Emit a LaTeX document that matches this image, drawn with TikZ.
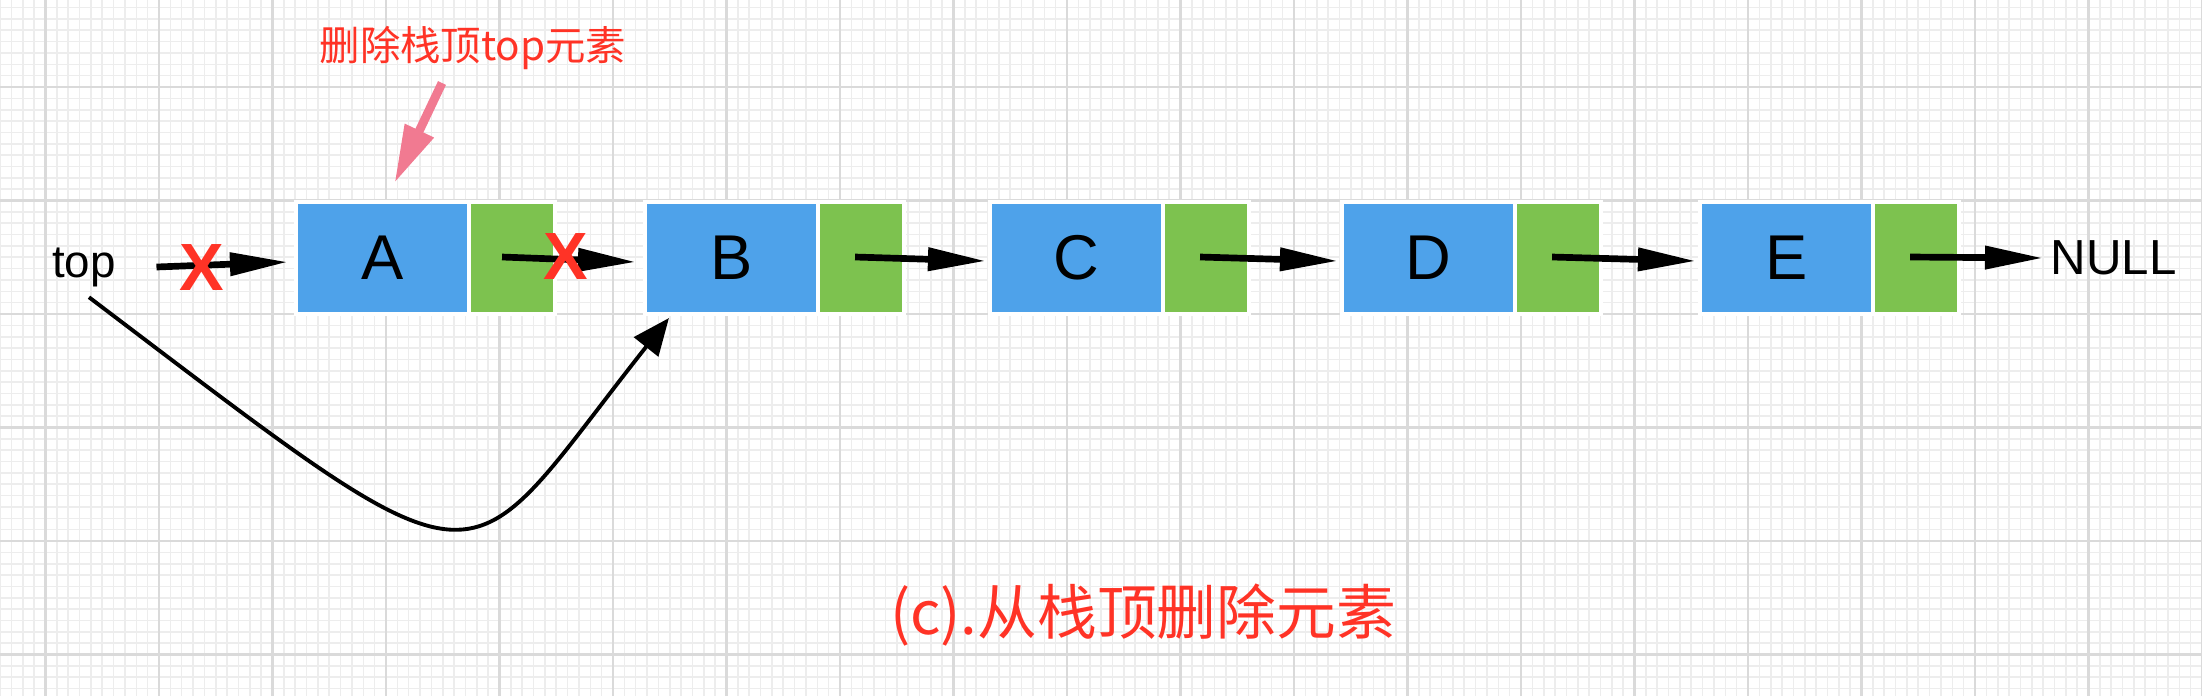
\documentclass[tikz,border=0pt]{standalone}
\usepackage{fontspec}
\usepackage{tikz}
\usetikzlibrary{arrows.meta,positioning}
\setmainfont{Liberation Sans}
\newfontfamily\cjk{Noto Sans CJK SC}

\definecolor{datablue}{HTML}{4EA2EA}
\definecolor{ptrgreen}{HTML}{7DC24F}
\definecolor{notered}{HTML}{FF3326}
\definecolor{hintpink}{HTML}{F17A91}
\definecolor{gridminor}{HTML}{EDEDED}
\definecolor{gridmajor}{HTML}{DADADA}

\tikzset{
    databox/.style={draw=white, line width=0.04cm, fill=datablue, minimum width=1.73cm,
        minimum height=1.12cm, inner sep=0pt, outer sep=0pt, font=\fontsize{18}{18}\selectfont},
    ptrbox/.style={draw=white, line width=0.04cm, fill=ptrgreen, minimum width=0.86cm,
        minimum height=1.12cm, inner sep=0pt, outer sep=0pt},
    link/.style={-{Triangle[length=16.5pt,width=6.3pt]}, line width=1.9pt},
    cross/.style={text=notered, inner sep=0pt, font=\bfseries\fontsize{19}{19}\selectfont},
}

\begin{document}
\begin{tikzpicture}[x=0.01cm, y=-0.01cm]
    \useasboundingbox (0,0) rectangle (2202,696);
    \fill[white] (0,0) rectangle (2202,696);
    \foreach \i in {0,...,194}
        \draw[gridminor, line width=0.45pt] ({\i*11.35+0.1},0) -- ({\i*11.35+0.1},696);
    \foreach \j in {0,...,60}
        \draw[gridminor, line width=0.45pt] (0,{\j*11.35+7.55}) -- (2202,{\j*11.35+7.55});
    \foreach \i in {0,...,19}
        \draw[gridmajor, line width=0.6pt] ({\i*113.5+45.5},0) -- ({\i*113.5+45.5},696);
    \foreach \j in {0,...,5}
        \draw[gridmajor, line width=0.6pt] (0,{\j*113.5+87}) -- (2202,{\j*113.5+87});

    \foreach \name/\x in {A/298,B/647,C/992,D/1344,E/1702} {
        \node[databox] (\name) at (\x+84.5,258) {\name};
        \node[ptrbox, right=0pt of \name] (\name-ptr) {};
    }
    \node[font=\fontsize{13}{13}\selectfont, inner sep=0pt] (top) at (84,267) {top};
    \node[font=\fontsize{14}{14}\selectfont, inner sep=2pt, anchor=west] (null) at (2043,258) {NULL};
    \node[text=notered, font=\cjk\fontsize{11.5}{11.5}\selectfont] (title) at (473,48) {删除栈顶top元素};
    \node[text=notered, font=\cjk\fontsize{17}{17}\selectfont] (caption) at (1143,615) {(c).从栈顶删除元素};
    \coordinate (hint) at (442,83);

    \draw[hintpink, line width=2.5pt, -{Triangle[length=16.5pt,width=8.5pt]}] (hint) -- ([shift={(12,-19)}]A.north);
    \draw[link] ([shift={(40,0)}]top.east) -- ([shift={(-8,4)}]A.west);
    \draw[link] ([shift={(-10,-1)}]A-ptr.center) -- ([shift={(-9,4)}]B.west);
    \foreach \a/\b in {B/C,C/D,D/E}
        \draw[link] ([shift={(-6,-1)}]\a-ptr.center) -- ([shift={(-4,3)}]\b.west);
    \draw[link] ([shift={(-6,-1)}]E-ptr.center) -- (null.west);
    \draw[line width=1.1pt, -{Triangle[length=10.5pt,width=8.7pt]}] ([shift={(5,10)}]top.south)
        .. controls (502,610) and (455,588) .. ([shift={(24,4)}]B.south west);

    \node[cross] (cut1) at (202,268) {X};
    \node[cross] (cut2) at (566,257) {X};
\end{tikzpicture}
\end{document}
